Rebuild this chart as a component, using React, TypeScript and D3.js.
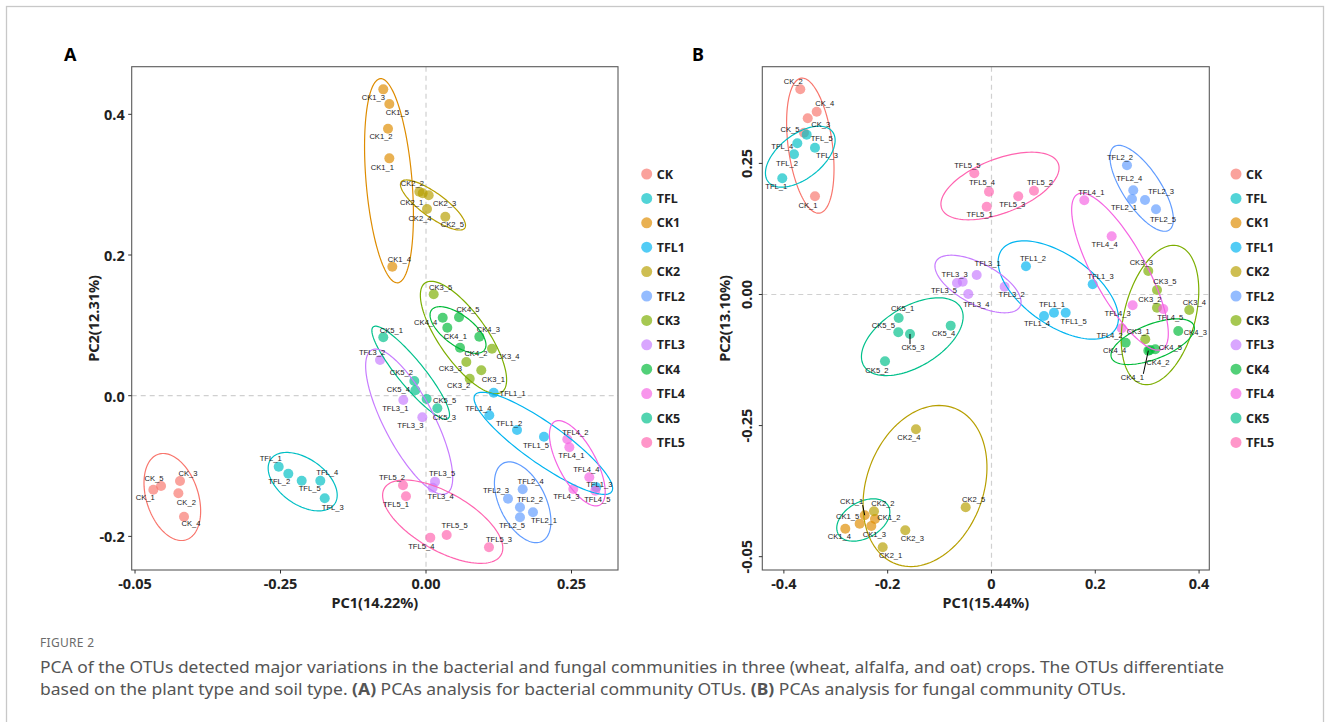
import React from "react";
import * as d3 from "d3";

type Pt = [string, number, number];
type Ell = [string, number, number, number, number, number, number];

// legend / group order
const groups = ["CK", "TFL", "CK1", "TFL1", "CK2", "TFL2", "CK3", "TFL3", "CK4", "TFL4", "CK5", "TFL5"];
const groupColor: Record<string, string> = {
  CK: "#F8766D", CK1: "#DE8C00", CK2: "#B79F00", CK3: "#7CAE00", CK4: "#00BA38", CK5: "#00C08B",
  TFL: "#00BFC4", TFL1: "#00B4F0", TFL2: "#619CFF", TFL3: "#C77CFF", TFL4: "#F564E3", TFL5: "#FF64B0",
};

// Panel A (bacteria): [sample, PC1, PC2]
const pointsA: Pt[] = [
  ["CK_1", -0.4685, -0.1336], ["CK_2", -0.4255, -0.1388], ["CK_3", -0.4227, -0.1213], ["CK_4", -0.4158, -0.172], ["CK_5", -0.4553, -0.1284],
  ["TFL_1", -0.2531, -0.1009], ["TFL_2", -0.2366, -0.1109], ["TFL_3", -0.174, -0.1458], ["TFL_4", -0.1816, -0.1208], ["TFL_5", -0.2136, -0.1208],
  ["CK1_1", -0.063, 0.3374], ["CK1_2", -0.0653, 0.3795], ["CK1_3", -0.0734, 0.4355], ["CK1_4", -0.0579, 0.1834], ["CK1_5", -0.063, 0.4146],
  ["CK2_1", -0.0057, 0.2877], ["CK2_2", -0.0115, 0.29], ["CK2_3", 0.0046, 0.2849], ["CK2_4", 0.0017, 0.2654], ["CK2_5", 0.0332, 0.2545],
  ["CK3_1", 0.095, 0.0361], ["CK3_2", 0.0751, 0.0242], ["CK3_3", 0.0693, 0.0479], ["CK3_4", 0.1134, 0.0668], ["CK3_5", 0.0132, 0.1441],
  ["CK4_1", 0.0366, 0.0967], ["CK4_2", 0.0584, 0.0682], ["CK4_3", 0.0916, 0.0839], ["CK4_4", 0.0287, 0.1109], ["CK4_5", 0.0567, 0.1114],
  ["CK5_1", -0.0734, 0.083], ["CK5_2", -0.0201, 0.0209], ["CK5_3", 0.0195, -0.0179], ["CK5_4", -0.0183, 0.0077], ["CK5_5", 0.0011, -0.0047],
  ["TFL1_1", 0.1163, 0.0043], ["TFL1_2", 0.1564, -0.0488], ["TFL1_3", 0.2926, -0.1302], ["TFL1_4", 0.1088, -0.0279], ["TFL1_5", 0.2027, -0.0583],
  ["TFL2_1", 0.1838, -0.1658], ["TFL2_2", 0.1615, -0.1587], ["TFL2_3", 0.1409, -0.1464], ["TFL2_4", 0.1661, -0.133], ["TFL2_5", 0.1615, -0.1729],
  ["TFL3_1", -0.039, -0.0061], ["TFL3_2", -0.079, 0.0507], ["TFL3_3", -0.0063, -0.0307], ["TFL3_4", 0.0115, -0.1308], ["TFL3_5", 0.0155, -0.1222],
  ["TFL4_1", 0.2463, -0.0734], ["TFL4_2", 0.2428, -0.062], ["TFL4_3", 0.2531, -0.1326], ["TFL4_4", 0.2806, -0.116], ["TFL4_5", 0.2909, -0.135],
  ["TFL5_1", -0.0344, -0.143], ["TFL5_2", -0.0395, -0.1274], ["TFL5_3", 0.1082, -0.2155], ["TFL5_4", 0.0074, -0.2018], ["TFL5_5", 0.0355, -0.198],
];

// Panel B (fungi): [sample, PC1, PC2]
const pointsB: Pt[] = [
  ["CK_1", -0.3401, 0.1873], ["CK_2", -0.3684, 0.3913], ["CK_3", -0.3541, 0.336], ["CK_4", -0.3368, 0.3486], ["CK_5", -0.3613, 0.3086],
  ["TFL_1", -0.4031, 0.2216], ["TFL_2", -0.3805, 0.2673], ["TFL_3", -0.3401, 0.28], ["TFL_4", -0.3741, 0.2883], ["TFL_5", -0.3561, 0.3048],
  ["CK1_1", -0.2443, -0.421], ["CK1_2", -0.2245, -0.4281], ["CK1_3", -0.2316, -0.4415], ["CK1_4", -0.2817, -0.4466], ["CK1_5", -0.254, -0.437],
  ["CK2_1", -0.2096, -0.4821], ["CK2_2", -0.2264, -0.4134], ["CK2_3", -0.1661, -0.4497], ["CK2_4", -0.1455, -0.2571], ["CK2_5", -0.0497, -0.4058],
  ["CK3_1", 0.2963, -0.0854], ["CK3_2", 0.3189, -0.0252], ["CK3_3", 0.3021, 0.0448], ["CK3_4", 0.3811, -0.0296], ["CK3_5", 0.3189, 0.0086],
  ["CK4_1", 0.3022, -0.1071], ["CK4_2", 0.3054, -0.1058], ["CK4_3", 0.3599, -0.0696], ["CK4_4", 0.2586, -0.0919], ["CK4_5", 0.3156, -0.1045],
  ["CK5_1", -0.1788, -0.0448], ["CK5_2", -0.2052, -0.1274], ["CK5_3", -0.157, -0.0753], ["CK5_4", -0.0786, -0.0594], ["CK5_5", -0.1796, -0.0721],
  ["TFL1_1", 0.1204, -0.0347], ["TFL1_2", 0.0665, 0.0538], ["TFL1_3", 0.195, 0.0195], ["TFL1_4", 0.1012, -0.041], ["TFL1_5", 0.143, -0.0347],
  ["TFL2_1", 0.2707, 0.1821], ["TFL2_2", 0.2611, 0.2464], ["TFL2_3", 0.2958, 0.1802], ["TFL2_4", 0.2732, 0.1987], ["TFL2_5", 0.317, 0.1625],
  ["TFL3_1", -0.0285, 0.0372], ["TFL3_2", 0.0254, 0.0149], ["TFL3_3", -0.0555, 0.0244], ["TFL3_4", -0.0447, 0.001], ["TFL3_5", -0.0665, 0.0219],
  ["TFL4_1", 0.1788, 0.1796], ["TFL4_2", 0.2509, -0.0645], ["TFL4_3", 0.272, -0.0206], ["TFL4_4", 0.2316, 0.111], ["TFL4_5", 0.331, -0.0277],
  ["TFL5_1", -0.0092, 0.1674], ["TFL5_2", 0.0819, 0.198], ["TFL5_3", 0.0516, 0.1873], ["TFL5_4", -0.0048, 0.196], ["TFL5_5", -0.0331, 0.2311],
];

// confidence ellipses: [group, centre PC1, centre PC2, semi-axis A (PC1, PC2), conjugate semi-axis B (PC1, PC2)]
const ellipsesA: Ell[] = [
  ["CK", -0.4359, -0.144, 0.0239, -0.0608, 0.0424, 0.0114],
  ["TFL", -0.2119, -0.1222, 0.0548, -0.0318, -0.0227, -0.0267],
  ["CK1", -0.0636, 0.3056, 0.0148, -0.1451, 0.0393, 0.0027],
  ["CK2", 0.012, 0.2711, 0.0546, -0.0328, -0.0121, -0.0138],
  ["CK3", 0.0644, 0.0827, 0.066, -0.0775, -0.0337, -0.0196],
  ["CK4", 0.055, 0.0934, 0.0455, -0.0284, -0.0155, -0.0171],
  ["CK5", -0.0263, 0.0327, 0.0644, -0.0651, -0.0174, -0.0117],
  ["TFL1", 0.2016, -0.0677, 0.1174, -0.0688, -0.0199, -0.0232],
  ["TFL2", 0.1661, -0.1515, 0.033, -0.0556, -0.0356, -0.0144],
  ["TFL3", -0.0289, -0.037, 0.0644, -0.1019, -0.0381, -0.0165],
  ["TFL4", 0.26, -0.0961, 0.0387, -0.0593, -0.0282, -0.0126],
  ["TFL5", 0.0287, -0.1791, 0.1003, -0.0473, -0.0246, -0.0357],
];
const ellipsesB: Ell[] = [
  ["CK", -0.3491, 0.2838, 0.0175, -0.1287, -0.0422, -0.0056],
  ["TFL", -0.3684, 0.2628, 0.0619, 0.0477, 0.026, -0.0332],
  ["CK1", -0.247, -0.43, 0.0482, 0.0269, 0.0171, -0.0301],
  ["CK2", -0.1281, -0.3652, 0.0561, 0.1486, 0.1054, -0.0389],
  ["CK3", 0.3247, -0.0391, 0.0349, 0.1318, 0.0661, -0.0172],
  ["CK4", 0.3106, -0.09, 0.0794, 0.0307, 0.0122, -0.0309],
  ["CK5", -0.1526, -0.0805, 0.0933, 0.0557, 0.0299, -0.049],
  ["TFL1", 0.1287, 0.0086, 0.1092, -0.0763, -0.0389, -0.0545],
  ["TFL2", 0.2894, 0.2025, 0.053, -0.0795, -0.0304, -0.0198],
  ["TFL3", -0.026, 0.02, 0.0809, -0.0429, -0.0185, -0.0343],
  ["TFL4", 0.2476, 0.0435, 0.0817, -0.1478, -0.0447, -0.0242],
  ["TFL5", 0.0164, 0.2069, 0.1123, 0.0429, 0.0187, -0.0481],
];
// in the original panel B the CK1 ellipse is drawn in the CK5 colour
const ellipseColorOverrideB: Record<string, string> = { CK1: "#00C08B" };

// axis ticks (labels exactly as printed in the figure)
const xTicksA = [-0.5, -0.25, 0, 0.25];
const xTickLabelsA = ["-0.05", "-0.25", "0.00", "0.25"];
const yTicksA = [-0.2, 0, 0.2, 0.4];
const yTickLabelsA = ["-0.2", "0.0", "0.2", "0.4"];
const xTicksB = [-0.4, -0.2, 0, 0.2, 0.4];
const xTickLabelsB = ["-0.4", "-0.2", "0", "0.2", "0.4"];
const yTicksB = [-0.5, -0.25, 0, 0.25];
const yTickLabelsB = ["-0.05", "-0.25", "0.00", "0.25"];

// text-label nudges (layout, px)
const nudgeA: Record<string, [number, number]> = {
  CK1_3: [-10, 8], CK1_5: [8, 8], CK1_2: [-7, 8], CK1_1: [-7, 9], CK1_4: [7, -7],
  CK2_2: [-7, -8], CK2_1: [-11, 9], CK2_3: [16, 8], CK2_4: [-7, 9], CK2_5: [7, 8],
  CK3_5: [7, -7], CK4_5: [9, -8], CK4_4: [-17, 5], CK4_1: [8, 9], CK4_3: [9, -7], CK4_2: [16, 6],
  CK3_4: [16, 8], CK3_3: [-16, 7], CK3_1: [12, 9], CK3_2: [-11, 7],
  CK5_1: [8, -7], TFL3_2: [-8, -8], CK5_2: [-13, -8], CK5_4: [-17, -1], CK5_5: [18, 2], CK5_3: [7, 9],
  TFL3_1: [-8, 9], TFL3_3: [-12, 8], TFL1_1: [19, 1], TFL1_4: [-11, -7], TFL1_2: [-8, -7], TFL1_5: [-8, 9],
  TFL4_2: [8, -7], TFL4_1: [2, 8], TFL4_4: [-3, -8], TFL1_3: [3, -3], TFL4_5: [2, 9], TFL4_3: [-7, 8],
  TFL2_4: [8, -8], TFL2_3: [-12, -8], TFL2_2: [10, -8], TFL2_1: [11, 8], TFL2_5: [-8, 8],
  TFL3_5: [7, -8], TFL3_4: [8, 9], TFL5_2: [-11, -8], TFL5_1: [-10, 8], TFL5_5: [8, -9], TFL5_4: [-9, 9], TFL5_3: [10, -8],
  CK_5: [-7, -8], CK_1: [-8, 8], CK_3: [8, -8], CK_2: [8, 9], CK_4: [7, 7],
  TFL_1: [-8, -8], TFL_2: [-9, 8], TFL_5: [8, 8], TFL_4: [7, -8], TFL_3: [8, 9],
};
const nudgeB: Record<string, [number, number]> = {
  CK_2: [-7, -8], CK_4: [8, -8], CK_3: [13, 6], CK_5: [-14, -3], TFL_5: [15, 4], TFL_4: [-15, 3],
  TFL_3: [12, 8], TFL_2: [-7, 9], TFL_1: [-6, 8], CK_1: [-7, 9],
  TFL5_5: [-7, -8], TFL5_4: [-7, -9], TFL5_2: [6, -8], TFL5_3: [-6, 8], TFL5_1: [-7, 8],
  TFL2_2: [-7, -8], TFL2_4: [-4, -12], TFL2_1: [-8, 8], TFL2_3: [16, -8], TFL2_5: [7, 10],
  TFL4_1: [7, -8], TFL4_4: [-7, 8], TFL1_2: [7, -8], TFL1_3: [8, -8],
  CK3_3: [-7, -8], CK3_5: [8, -8], CK3_2: [-7, -8], TFL4_5: [7, 8], CK3_4: [5, -8], TFL4_3: [-15, 8],
  TFL1_1: [-2, -8], TFL1_5: [8, 9], TFL1_4: [-7, 8], TFL4_2: [-12, 7], CK3_1: [-7, -8],
  CK4_3: [17, 2], CK4_4: [-11, 8], CK4_5: [15, -2], CK4_2: [8, 13], CK4_1: [-16, 27],
  TFL3_1: [11, -11], TFL3_3: [-8, -7], TFL3_5: [-13, 7], TFL3_4: [8, 11], TFL3_2: [7, 8],
  CK5_1: [4, -9], CK5_5: [-15, -7], CK5_3: [3, 14], CK5_4: [-7, 8], CK5_2: [-8, 9],
  CK2_4: [-7, 8], CK2_5: [8, -8], CK1_1: [-13, -14], CK2_2: [9, -8], CK1_2: [14, -1],
  CK1_5: [-12, -7], CK1_3: [3, 8], CK1_4: [-6, 8], CK2_3: [7, 8], CK2_1: [8, 8],
};
const leadersB = ["CK1_1", "CK5_3", "CK4_1"];

const captionLine1 =
  "PCA of the OTUs detected major variations in the bacterial and fungal communities in three (wheat, alfalfa, and oat) crops. The OTUs differentiate";

const FONT = "'Noto Sans', 'Open Sans', sans-serif";
const LABEL_FONT = "'Liberation Sans', Arial, sans-serif";
const LABEL_FS = 7.6;

interface PanelProps {
  points: Pt[];
  ellipses: Ell[];
  ellColor?: Record<string, string>;
  nudges: Record<string, [number, number]>;
  leaders: string[];
  xDomain: [number, number];
  yDomain: [number, number];
  left: number; right: number; top: number; bottom: number;
  xTicks: number[]; xTickLabels: string[];
  yTicks: number[]; yTickLabels: string[];
  xTitle: string; yTitle: string;
  yTitleX: number;
  rotateYTicks: boolean;
  yTickX: number;
  letter: string; letterX: number;
  legendX: number;
}

function Panel(p: PanelProps) {
  const x = d3.scaleLinear().domain(p.xDomain).range([p.left, p.right]);
  const y = d3.scaleLinear().domain(p.yDomain).range([p.bottom, p.top]);
  const clipId = "clip" + p.letter;
  const ts = d3.range(0, 121).map((i) => (i / 120) * 2 * Math.PI);
  const ordered = [...p.points].sort(
    (a, b) => groups.indexOf(a[0].split("_")[0]) - groups.indexOf(b[0].split("_")[0])
  );
  return (
    <g>
      <text x={p.letterX} y={61} fontFamily={FONT} fontWeight={700} fontSize={18} fill="#000">{p.letter}</text>
      <defs>
        <clipPath id={clipId}>
          <rect x={p.left} y={p.top} width={p.right - p.left} height={p.bottom - p.top} />
        </clipPath>
      </defs>
      {/* zero lines */}
      <line x1={x(0)} x2={x(0)} y1={p.top} y2={p.bottom} stroke="#d0d0d0" strokeWidth={1.2} strokeDasharray="5,4" />
      <line x1={p.left} x2={p.right} y1={y(0)} y2={y(0)} stroke="#d0d0d0" strokeWidth={1.2} strokeDasharray="5,4" />
      <g clipPath={`url(#${clipId})`}>
        {ordered.map(([id, px, py]) => {
          const g = id.split("_")[0];
          return <circle key={id} cx={x(px)} cy={y(py)} r={5} fill={groupColor[g]} fillOpacity={0.68} />;
        })}
        {p.ellipses.map(([g, cx, cy, ax, ay, bx, by]) => {
          const line = d3
            .line<number>()
            .x((t) => x(cx + ax * Math.cos(t) + bx * Math.sin(t)))
            .y((t) => y(cy + ay * Math.cos(t) + by * Math.sin(t)))
            .curve(d3.curveLinearClosed);
          const col = (p.ellColor && p.ellColor[g]) || groupColor[g];
          return <path key={g} d={line(ts) || ""} fill="none" stroke={col} strokeWidth={1.2} />;
        })}
        {p.points.map(([id, px, py]) => {
          const [dx, dy] = p.nudges[id] || [0, 8];
          const cx = x(px), cy = y(py);
          const lx = cx + dx, ly = cy + dy;
          let leader = null;
          if (p.leaders.includes(id)) {
            const w = id.length * LABEL_FS * 0.58;
            const h = LABEL_FS;
            const ex = Math.max(lx - w / 2, Math.min(cx, lx + w / 2));
            const ey = Math.max(ly - h / 2, Math.min(cy, ly + h / 2));
            leader = <line x1={cx} y1={cy} x2={ex} y2={ey} stroke="#000" strokeWidth={1} />;
          }
          return (
            <g key={"l" + id}>
              {leader}
              <text x={lx} y={ly} textAnchor="middle" dominantBaseline="central" fontFamily={LABEL_FONT} fontSize={LABEL_FS} fill="#1a1a1a">{id}</text>
            </g>
          );
        })}
      </g>
      {/* border */}
      <rect x={p.left} y={p.top} width={p.right - p.left} height={p.bottom - p.top} fill="none" stroke="#5a5a5a" strokeWidth={1.1} />
      {/* x ticks */}
      {p.xTicks.map((t, i) => (
        <g key={"xt" + i}>
          <line x1={x(t)} x2={x(t)} y1={p.bottom} y2={p.bottom + 3.5} stroke="#333" strokeWidth={1} />
          <text x={x(t)} y={p.bottom + 18.5} textAnchor="middle" fontFamily={FONT} fontWeight={700} fontSize={14.5} fill="#222">{p.xTickLabels[i]}</text>
        </g>
      ))}
      {/* y ticks */}
      {p.yTicks.map((t, i) => (
        <g key={"yt" + i}>
          <line x1={p.left - 3.5} x2={p.left} y1={y(t)} y2={y(t)} stroke="#333" strokeWidth={1} />
          {p.rotateYTicks ? (
            <text transform={`translate(${p.yTickX},${y(t)}) rotate(-90)`} textAnchor="middle" dominantBaseline="central" fontFamily={FONT} fontWeight={700} fontSize={14.5} fill="#222">{p.yTickLabels[i]}</text>
          ) : (
            <text x={p.left - 7} y={y(t)} textAnchor="end" dominantBaseline="central" fontFamily={FONT} fontWeight={700} fontSize={14.5} fill="#222">{p.yTickLabels[i]}</text>
          )}
        </g>
      ))}
      <text x={(p.left + p.right) / 2} y={p.bottom + 38} textAnchor="middle" fontFamily={FONT} fontWeight={700} fontSize={14.5} fill="#222">{p.xTitle}</text>
      <text transform={`translate(${p.yTitleX},${(p.top + p.bottom) / 2}) rotate(-90)`} textAnchor="middle" dominantBaseline="central" fontFamily={FONT} fontWeight={700} fontSize={14.5} fill="#222">{p.yTitle}</text>
      {/* legend */}
      {groups.map((g, i) => (
        <g key={"lg" + g}>
          <circle cx={p.legendX} cy={174 + i * 24.4} r={5.5} fill={groupColor[g]} fillOpacity={0.68} />
          <text x={p.legendX + 10} y={174 + i * 24.4} dominantBaseline="central" fontFamily={FONT} fontWeight={700} fontSize={12.5} fill="#222">{g}</text>
        </g>
      ))}
    </g>
  );
}

export default function App() {
  return (
    <div style={{ position: "absolute", left: 0, top: 0 }}>
      <svg width={1330} height={722} style={{ display: "block", background: "#fff" }}>
        <rect x={6.5} y={6.5} width={1317} height={730} fill="none" stroke="#c8c8c8" strokeWidth={1.3} />
        <Panel
          points={pointsA}
          ellipses={ellipsesA}
          nudges={nudgeA}
          leaders={[]}
          xDomain={[-0.5057, 0.3299]}
          yDomain={[-0.2478, 0.4677]}
          left={131.7} right={618} top={66.7} bottom={570}
          xTicks={xTicksA} xTickLabels={xTickLabelsA}
          yTicks={yTicksA} yTickLabels={yTickLabelsA}
          xTitle="PC1(14.22%)" yTitle="PC2(12.31%)"
          yTitleX={92.5}
          rotateYTicks={false}
          yTickX={0}
          letter="A" letterX={64}
          legendX={646.7}
        />
        <Panel
          points={pointsB}
          ellipses={ellipsesB}
          ellColor={ellipseColorOverrideB}
          nudges={nudgeB}
          leaders={leadersB}
          xDomain={[-0.4416, 0.4197]}
          yDomain={[-0.5254, 0.4344]}
          left={762.3} right={1209.3} top={66.7} bottom={570}
          xTicks={xTicksB} xTickLabels={xTickLabelsB}
          yTicks={yTicksB} yTickLabels={yTickLabelsB}
          xTitle="PC1(15.44%)" yTitle="PC2(13.10%)"
          yTitleX={724}
          rotateYTicks={true}
          yTickX={746}
          letter="B" letterX={692}
          legendX={1236}
        />
        <text x={40} y={647} fontFamily={FONT} fontSize={12} fill="#6b6b6b" letterSpacing={0.3}>FIGURE 2</text>
        <text x={40} y={673} fontFamily={FONT} fontSize={16} fill="#555" textLength={1184} lengthAdjust="spacingAndGlyphs">
          {captionLine1}
        </text>
        <text x={40} y={695} fontFamily={FONT} fontSize={16} fill="#555" textLength={1086} lengthAdjust="spacingAndGlyphs">
          based on the plant type and soil type. <tspan fontWeight={700}>(A)</tspan> PCAs analysis for bacterial community OTUs. <tspan fontWeight={700}>(B)</tspan> PCAs analysis for fungal community OTUs.
        </text>
      </svg>
    </div>
  );
}
